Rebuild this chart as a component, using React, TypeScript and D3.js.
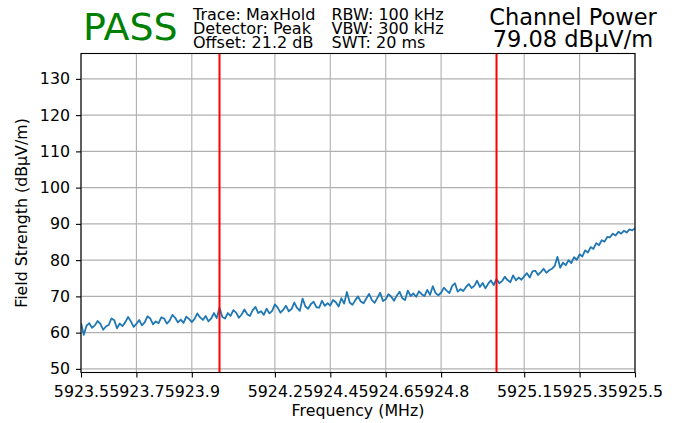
import { useEffect, useRef } from "react";
import * as d3 from "d3";

// trace sampled every 10 kHz starting at 5923.5 MHz
const freqStart = 5923.5;
const freqStep = 0.01;
const levels = [
  62.7, 59.4, 61.9, 62.6, 61.3, 62.0, 63.2, 62.4, 60.8, 61.7,
  62.1, 63.9, 63.4, 61.2, 62.5, 61.8, 62.9, 64.3, 63.1, 61.6,
  62.4, 63.5, 62.0, 62.8, 64.5, 63.9, 62.3, 63.1, 62.6, 64.2,
  63.9, 62.5, 63.3, 64.9, 64.1, 62.8, 63.6, 62.7, 64.4, 63.8,
  62.9, 63.8, 65.3, 64.2, 63.5, 64.6, 63.1, 63.9, 65.4, 64.0,
  66.9, 64.3, 63.9, 65.4, 64.6, 66.2, 65.5, 64.1, 65.0, 66.4,
  65.1, 64.6, 66.2, 67.1, 65.4, 65.9, 64.9, 66.6, 65.3, 66.0,
  67.8, 66.9, 65.5, 66.3, 67.4, 65.9, 66.5, 68.3, 66.8, 66.0,
  69.4, 67.2, 66.6, 67.9, 68.5, 67.0, 66.9, 68.8, 67.4, 68.1,
  67.5, 69.0, 68.4, 67.2, 69.5, 68.0, 71.2, 68.3, 67.7, 68.9,
  70.0, 68.6, 68.1, 69.4, 70.7, 69.0, 68.2, 69.6, 71.0, 68.7,
  69.2, 70.6, 69.9, 68.8, 70.2, 71.3, 69.5, 69.0, 71.6, 70.1,
  70.8, 69.9, 71.4, 70.6, 70.1, 71.8, 70.4, 72.8, 70.9, 70.3,
  71.0, 72.4, 71.6, 70.9, 72.9, 73.6, 71.3, 72.0, 71.5, 72.6,
  73.4, 72.3, 72.9, 74.3, 72.6, 73.7, 72.2, 73.5, 74.4, 73.1,
  74.8, 73.6, 74.2, 75.4, 74.5, 73.9, 75.8, 74.4, 75.2, 74.6,
  75.5, 76.4, 75.2, 76.9, 77.1, 75.9, 76.7, 77.6, 76.5, 77.2,
  77.6, 78.4, 80.9, 77.9, 79.3, 78.6, 80.0, 79.2, 80.8, 80.1,
  81.6, 81.0, 82.7, 82.1, 83.6, 83.1, 84.7, 84.1, 85.5, 85.1,
  86.4, 86.3, 87.3, 86.8, 87.8, 87.3, 88.1, 87.6, 88.5, 88.2,
  88.8,
];

const xTicks = [5923.5, 5923.7, 5923.9, 5924.2, 5924.4, 5924.6, 5924.8, 5925.1, 5925.3, 5925.5];
const yTicks = [50, 60, 70, 80, 90, 100, 110, 120, 130];
const channelEdges = [5924.0, 5925.0];
const infoCol1 = ["Trace: MaxHold", "Detector: Peak", "Offset: 21.2 dB"];
const infoCol2 = ["RBW: 100 kHz", "VBW: 300 kHz", "SWT: 20 ms"];
const powerLines = ["Channel Power", "79.08 dBµV/m"];

const W = 680, H = 423;
const FONT = "DejaVu Sans, sans-serif";

const App = () => {
  const ref = useRef(null);

  useEffect(() => {
    document.body.style.margin = "0";
    const svg = d3.select(ref.current);
    svg.selectAll("*").remove();

    const left = 81, right = 635, top = 53.5, bottom = 372.5;
    const x = d3.scaleLinear().domain([5923.5, 5925.5]).range([left, right]);
    const y = d3.scaleLinear().domain([49.0, 137.0]).range([bottom, top]);

    // grid
    svg.append("g").selectAll("line").data(xTicks).join("line")
      .attr("x1", d => x(d)).attr("x2", d => x(d))
      .attr("y1", top).attr("y2", bottom)
      .attr("stroke", "#b0b0b0").attr("stroke-width", 1.1);
    svg.append("g").selectAll("line").data(yTicks).join("line")
      .attr("x1", left).attr("x2", right)
      .attr("y1", d => y(d)).attr("y2", d => y(d))
      .attr("stroke", "#b0b0b0").attr("stroke-width", 1.1);

    svg.append("clipPath").attr("id", "plotclip")
      .append("rect").attr("x", left).attr("y", top)
      .attr("width", right - left).attr("height", bottom - top);

    const line = d3.line()
      .x((d, i) => x(freqStart + i * freqStep))
      .y(d => y(d));
    svg.append("path")
      .datum(levels)
      .attr("clip-path", "url(#plotclip)")
      .attr("fill", "none")
      .attr("stroke", "#1f77b4")
      .attr("stroke-width", 1.8)
      .attr("stroke-linejoin", "round")
      .attr("d", line);

    // channel edges
    svg.append("g").selectAll("line").data(channelEdges).join("line")
      .attr("x1", d => x(d)).attr("x2", d => x(d))
      .attr("y1", top).attr("y2", bottom)
      .attr("stroke", "#ff0000").attr("stroke-width", 2);

    // axes
    const xAxis = svg.append("g")
      .attr("transform", `translate(0,${bottom})`)
      .call(d3.axisBottom(x).tickValues(xTicks).tickFormat(d3.format(".1f")).tickSize(5).tickPadding(8));
    const yAxis = svg.append("g")
      .attr("transform", `translate(${left},0)`)
      .call(d3.axisLeft(y).tickValues(yTicks).tickSize(5).tickPadding(6));
    [xAxis, yAxis].forEach(a => {
      a.select(".domain").remove();
      a.selectAll("line").attr("stroke", "#000").attr("stroke-width", 1.1);
      a.selectAll("text").attr("font-family", FONT).attr("font-size", 15.8).attr("fill", "#000");
    });

    svg.append("rect")
      .attr("x", left).attr("y", top)
      .attr("width", right - left).attr("height", bottom - top)
      .attr("fill", "none").attr("stroke", "#000").attr("stroke-width", 1.1);

    svg.append("text")
      .attr("x", (left + right) / 2).attr("y", 416)
      .attr("text-anchor", "middle")
      .attr("font-family", FONT).attr("font-size", 15.8)
      .text("Frequency (MHz)");
    svg.append("text")
      .attr("transform", `translate(26.5,${(top + bottom) / 2}) rotate(-90)`)
      .attr("text-anchor", "middle")
      .attr("font-family", FONT).attr("font-size", 15.8)
      .text("Field Strength (dBµV/m)");

    // header
    svg.append("text")
      .attr("x", 83).attr("y", 39.5)
      .attr("font-family", FONT).attr("font-size", 38)
      .attr("fill", "#008000")
      .text("PASS");
    const baselines = [19.5, 33.8, 48.2];
    svg.append("g").selectAll("text").data(infoCol1).join("text")
      .attr("x", 193).attr("y", (d, i) => baselines[i])
      .attr("font-family", FONT).attr("font-size", 16)
      .text(d => d);
    svg.append("g").selectAll("text").data(infoCol2).join("text")
      .attr("x", 331.5).attr("y", (d, i) => baselines[i])
      .attr("font-family", FONT).attr("font-size", 16)
      .text(d => d);
    svg.append("g").selectAll("text").data(powerLines).join("text")
      .attr("x", 573).attr("y", (d, i) => [25, 46.7][i])
      .attr("text-anchor", "middle")
      .attr("font-family", FONT).attr("font-size", 22.5)
      .text(d => d);
  }, []);

  return (
    <svg ref={ref} width={W} height={H}
      style={{ position: "absolute", left: 0, top: 0, background: "#fff" }} />
  );
};

export default App;
